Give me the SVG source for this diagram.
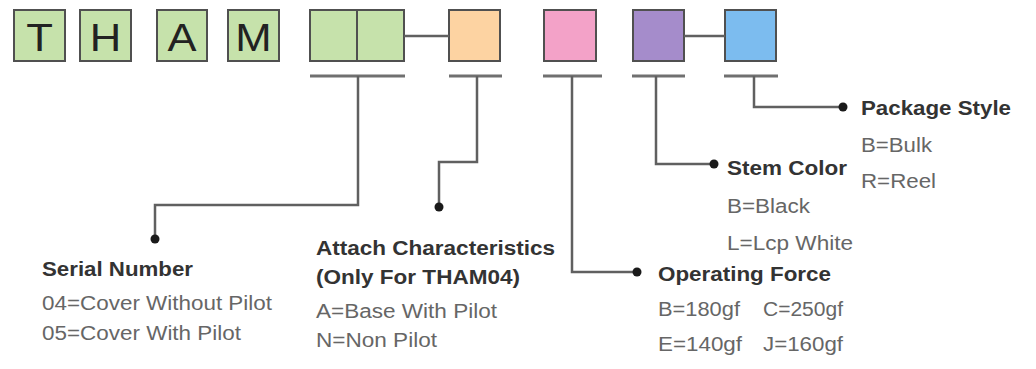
<svg xmlns="http://www.w3.org/2000/svg" width="1036" height="369" viewBox="0 0 1036 369">
<style>
.box{stroke:#505050;stroke-width:2}
.g{fill:#c6e2ab}
.ltr{font-family:"Liberation Sans",Arial,sans-serif;font-size:39px;fill:#222}
.ul{stroke:#707070;stroke-width:3;fill:none}
.ln{stroke:#606060;stroke-width:2.5;fill:none}
.dot{fill:#1a1a1a}
.h{font-family:"Liberation Sans",Arial,sans-serif;font-size:20px;font-weight:bold;fill:#333}
.v{font-family:"Liberation Sans",Arial,sans-serif;font-size:20px;fill:#666}
</style>
<rect width="1036" height="369" fill="#ffffff"/>
<g id="code">
<g id="box-T"><rect class="box g" x="14" y="10" width="51" height="51"/><text class="ltr" x="26.2" y="51" textLength="26.7" lengthAdjust="spacingAndGlyphs">T</text></g>
<g id="box-H"><rect class="box g" x="80" y="10" width="51" height="51"/><text class="ltr" x="89.8" y="51" textLength="31.5" lengthAdjust="spacingAndGlyphs">H</text></g>
<g id="box-A"><rect class="box g" x="157" y="10" width="50" height="51"/><text class="ltr" x="167.5" y="51" textLength="29" lengthAdjust="spacingAndGlyphs">A</text></g>
<g id="box-M"><rect class="box g" x="228" y="10" width="51" height="51"/><text class="ltr" x="235.3" y="51" textLength="36.4" lengthAdjust="spacingAndGlyphs">M</text></g>
<g id="box-serial"><rect class="box g" x="310" y="10" width="94" height="51"/><line class="box" x1="357" y1="10" x2="357" y2="61"/></g>
<g id="box-attach"><rect class="box" fill="#fdd3a2" x="449" y="10" width="51" height="51"/></g>
<g id="box-force"><rect class="box" fill="#f3a2c8" x="544" y="10" width="52" height="51"/></g>
<g id="box-stem"><rect class="box" fill="#a58ccb" x="633" y="10" width="51" height="51"/></g>
<g id="box-package"><rect class="box" fill="#7cbcef" x="725" y="10" width="51" height="51"/></g>
</g>
<g id="connectors">
<line class="ln" x1="404" y1="36" x2="449" y2="36"/>
<line class="ln" x1="684" y1="36" x2="725" y2="36"/>
<line class="ul" x1="310" y1="76" x2="405" y2="76"/>
<line class="ul" x1="449" y1="76" x2="502" y2="76"/>
<line class="ul" x1="543" y1="76" x2="602" y2="76"/>
<line class="ul" x1="632" y1="76" x2="685" y2="76"/>
<line class="ul" x1="724" y1="76" x2="778" y2="76"/>
<path class="ln" d="M358,76 V205 H155 V239"/>
<path class="ln" d="M477,76 V162 H439 V207"/>
<path class="ln" d="M572,76 V272 H637"/>
<path class="ln" d="M656,76 V164 H714"/>
<path class="ln" d="M754,76 V107 H843"/>
<circle class="dot" cx="155" cy="239" r="4.5"/>
<circle class="dot" cx="439" cy="207" r="4.5"/>
<circle class="dot" cx="637" cy="272" r="4.5"/>
<circle class="dot" cx="714" cy="164" r="4.5"/>
<circle class="dot" cx="843" cy="107" r="4.5"/>
</g>
<g id="label-serial">
<text class="h" x="42" y="276" textLength="151" lengthAdjust="spacingAndGlyphs">Serial Number</text>
<text class="v" x="42" y="310" textLength="230" lengthAdjust="spacingAndGlyphs">04=Cover Without Pilot</text>
<text class="v" x="42" y="340" textLength="199" lengthAdjust="spacingAndGlyphs">05=Cover With Pilot</text>
</g>
<g id="label-attach">
<text class="h" x="316" y="255" textLength="239" lengthAdjust="spacingAndGlyphs">Attach Characteristics</text>
<text class="h" x="316" y="284" textLength="204" lengthAdjust="spacingAndGlyphs">(Only For THAM04)</text>
<text class="v" x="316" y="318" textLength="181" lengthAdjust="spacingAndGlyphs">A=Base With Pilot</text>
<text class="v" x="316" y="347" textLength="121" lengthAdjust="spacingAndGlyphs">N=Non Pilot</text>
</g>
<g id="label-force">
<text class="h" x="658" y="281" textLength="173" lengthAdjust="spacingAndGlyphs">Operating Force</text>
<text class="v" x="658" y="316" textLength="82" lengthAdjust="spacingAndGlyphs">B=180gf</text>
<text class="v" x="763" y="316" textLength="80" lengthAdjust="spacingAndGlyphs">C=250gf</text>
<text class="v" x="658" y="351" textLength="84" lengthAdjust="spacingAndGlyphs">E=140gf</text>
<text class="v" x="763" y="351" textLength="80" lengthAdjust="spacingAndGlyphs">J=160gf</text>
</g>
<g id="label-stem">
<text class="h" x="727" y="175" textLength="120" lengthAdjust="spacingAndGlyphs">Stem Color</text>
<text class="v" x="727" y="213" textLength="83" lengthAdjust="spacingAndGlyphs">B=Black</text>
<text class="v" x="727" y="250" textLength="126" lengthAdjust="spacingAndGlyphs">L=Lcp White</text>
</g>
<g id="label-package">
<text class="h" x="861" y="115" textLength="150" lengthAdjust="spacingAndGlyphs">Package Style</text>
<text class="v" x="861" y="152" textLength="71" lengthAdjust="spacingAndGlyphs">B=Bulk</text>
<text class="v" x="861" y="188" textLength="75" lengthAdjust="spacingAndGlyphs">R=Reel</text>
</g>
</svg>
